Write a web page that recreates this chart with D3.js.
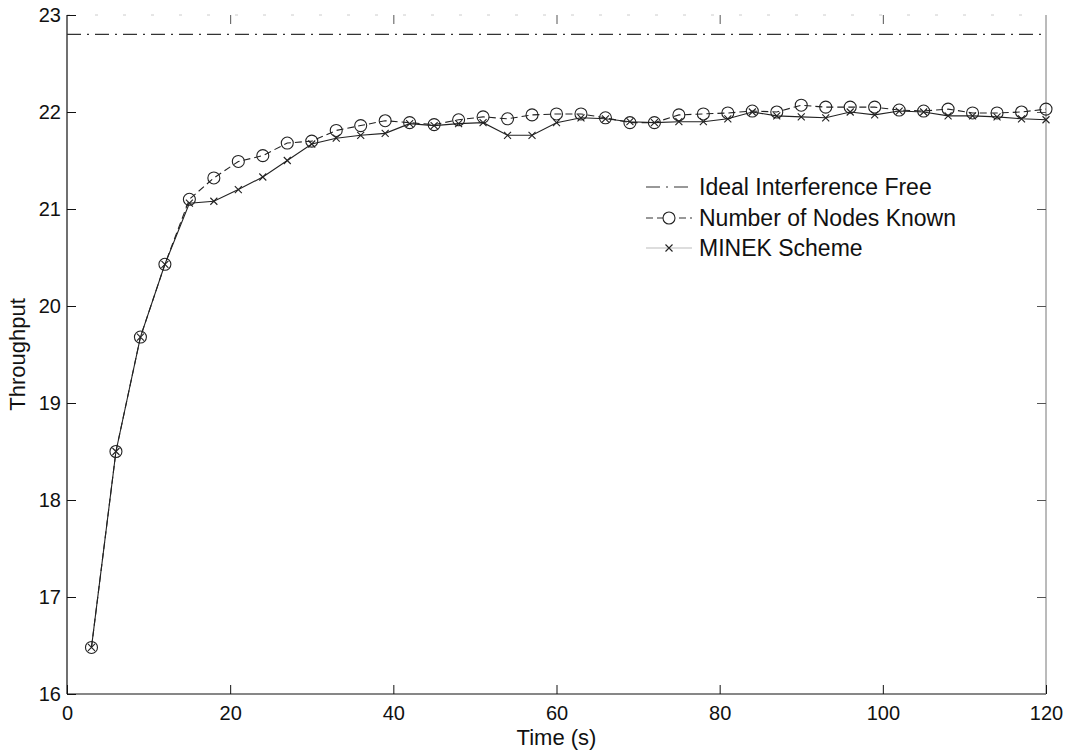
<!DOCTYPE html>
<html>
<head>
<meta charset="utf-8">
<script src="https://cdn.jsdelivr.net/npm/d3@7/dist/d3.min.js"></script>
<style>
  html, body { margin: 0; padding: 0; background: #fff; }
  svg { display: block; font-family: "Liberation Sans", Arial, Helvetica, sans-serif; }
</style>
</head>
<body>
<svg id="chart" width="1074" height="754"></svg>
<script>
// ---- data ----
const times = [3,6,9,12,15,18,21,24,27,30,33,36,39,42,45,48,51,54,57,60,63,66,69,72,75,78,81,84,87,90,93,96,99,102,105,108,111,114,117,120];
const nodesKnown = [16.48,18.5,19.68,20.43,21.1,21.32,21.49,21.55,21.68,21.7,21.81,21.86,21.91,21.89,21.87,21.92,21.95,21.93,21.97,21.98,21.98,21.94,21.89,21.89,21.97,21.98,21.99,22.01,22.0,22.07,22.05,22.05,22.05,22.02,22.01,22.03,21.99,21.99,22.0,22.03];
const minek = [16.48,18.5,19.68,20.43,21.06,21.08,21.2,21.33,21.5,21.67,21.73,21.76,21.78,21.88,21.86,21.88,21.89,21.76,21.76,21.89,21.94,21.93,21.9,21.89,21.9,21.9,21.93,22.0,21.96,21.95,21.94,22.0,21.97,22.01,22.0,21.96,21.96,21.95,21.93,21.92];
const idealValue = [22.8];
const idealTimes = [0, 120];
const xTicks = [0,20,40,60,80,100,120];
const yTicks = [16,17,18,19,20,21,22,23];
const legendLabels = ["Ideal Interference Free", "Number of Nodes Known", "MINEK Scheme"];
const xLabel = "Time (s)";
const yLabel = "Throughput";

// ---- layout ----
const svg = d3.select("#chart");
const L = 67, R = 1046, T = 15, B = 694;
const x = d3.scaleLinear().domain([0,120]).range([L, R]);
const y = d3.scaleLinear().domain([16,23]).range([B, T]);
const ink = "#111";

// box
svg.append("line").attr("x1",L).attr("x2",L).attr("y1",T).attr("y2",B).attr("stroke",ink).attr("stroke-width",1.2);
svg.append("line").attr("x1",L).attr("x2",R).attr("y1",B).attr("y2",B).attr("stroke",ink).attr("stroke-width",1.2);
svg.append("line").attr("x1",R).attr("x2",R).attr("y1",T).attr("y2",B).attr("stroke","#777").attr("stroke-width",1);
svg.append("line").attr("x1",L).attr("x2",R).attr("y1",T).attr("y2",T).attr("stroke","#ccc").attr("stroke-width",1).attr("stroke-dasharray","3,25");

// axes (ticks inward)
const xAxis = d3.axisBottom(x).tickValues(xTicks).tickSize(-9).tickPadding(12).tickFormat(d3.format("d"));
const gx = svg.append("g").attr("transform",`translate(0,${B})`).call(xAxis);
gx.select(".domain").remove();
gx.selectAll("text").attr("font-size",20).attr("fill",ink).attr("font-family","Liberation Sans, Arial, sans-serif");
gx.selectAll("line").attr("stroke",ink);

const yAxis = d3.axisLeft(y).tickValues(yTicks).tickSize(-9).tickPadding(6).tickFormat(d3.format("d"));
const gy = svg.append("g").attr("transform",`translate(${L},0)`).call(yAxis);
gy.select(".domain").remove();
gy.selectAll("text").attr("font-size",20).attr("fill",ink).attr("font-family","Liberation Sans, Arial, sans-serif");
gy.selectAll("line").attr("stroke",ink);

// top / right ticks
const xAxisTop = d3.axisTop(x).tickValues(xTicks.slice(1,-1)).tickSize(-9).tickFormat("");
const gxt = svg.append("g").attr("transform",`translate(0,${T})`).call(xAxisTop);
gxt.select(".domain").remove();
gxt.selectAll("line").attr("stroke","#555");
const yAxisRight = d3.axisRight(y).tickValues(yTicks.slice(1,-1)).tickSize(-9).tickFormat("");
const gyr = svg.append("g").attr("transform",`translate(${R},0)`).call(yAxisRight);
gyr.select(".domain").remove();
gyr.selectAll("line").attr("stroke","#555");

// axis labels
svg.append("text").attr("x",(L+R)/2).attr("y",745).attr("text-anchor","middle").attr("font-size",22).attr("fill",ink).text(xLabel);
svg.append("text").attr("transform",`translate(25,${(T+B)/2}) rotate(-90)`).attr("text-anchor","middle").attr("font-size",22).attr("fill",ink).text(yLabel);

// ideal line
const idealData = idealTimes.map(t => ({t, v: idealValue[0]}));
svg.append("path").datum(idealData)
  .attr("d", d3.line().x(d => x(d.t)).y(d => y(d.v)))
  .attr("fill","none").attr("stroke","#333").attr("stroke-width",1.2)
  .attr("stroke-dasharray","14,6,2,6");

// series
const nkData = times.map((t,i) => ({t, v: nodesKnown[i]}));
const mkData = times.map((t,i) => ({t, v: minek[i]}));
const lineGen = d3.line().x(d => x(d.t)).y(d => y(d.v));

svg.append("path").datum(mkData).attr("d",lineGen).attr("fill","none").attr("stroke","#222").attr("stroke-width",1.1);
svg.append("path").datum(nkData).attr("d",lineGen).attr("fill","none").attr("stroke","#222").attr("stroke-width",1.1).attr("stroke-dasharray","7,4");

// markers
svg.append("g").selectAll("circle").data(nkData).join("circle")
  .attr("cx",d => x(d.t)).attr("cy",d => y(d.v)).attr("r",6)
  .attr("fill","none").attr("stroke","#222").attr("stroke-width",1.1);

const xs = 3.5;
svg.append("g").selectAll("path").data(mkData).join("path")
  .attr("d",d => { const cx = x(d.t), cy = y(d.v); return `M${cx-xs},${cy-xs}L${cx+xs},${cy+xs}M${cx-xs},${cy+xs}L${cx+xs},${cy-xs}`; })
  .attr("stroke","#222").attr("stroke-width",1.1).attr("fill","none");

// legend
const lg = svg.append("g");
const lx0 = 646, lx1 = 692, ltx = 699, ly = [187, 218, 248];
lg.append("line").attr("x1",lx0).attr("x2",lx1).attr("y1",ly[0]).attr("y2",ly[0]).attr("stroke","#333").attr("stroke-width",1.2).attr("stroke-dasharray","14,6,2,6");
lg.append("line").attr("x1",lx0).attr("x2",lx1).attr("y1",ly[1]).attr("y2",ly[1]).attr("stroke","#333").attr("stroke-width",1.1).attr("stroke-dasharray","7,4");
lg.append("circle").attr("cx",(lx0+lx1)/2).attr("cy",ly[1]).attr("r",6).attr("fill","#fff").attr("stroke","#222").attr("stroke-width",1.1);
lg.append("line").attr("x1",lx0).attr("x2",lx1).attr("y1",ly[2]).attr("y2",ly[2]).attr("stroke","#bbb").attr("stroke-width",1);
{ const cx = (lx0+lx1)/2, cy = ly[2];
  lg.append("path").attr("d",`M${cx-xs},${cy-xs}L${cx+xs},${cy+xs}M${cx-xs},${cy+xs}L${cx+xs},${cy-xs}`).attr("stroke","#222").attr("stroke-width",1.1); }
lg.selectAll("text").data(legendLabels).join("text")
  .attr("x",ltx).attr("y",(d,i) => ly[i]).attr("dy","0.35em")
  .attr("font-size",23).attr("fill",ink).text(d => d);
</script>
</body>
</html>
